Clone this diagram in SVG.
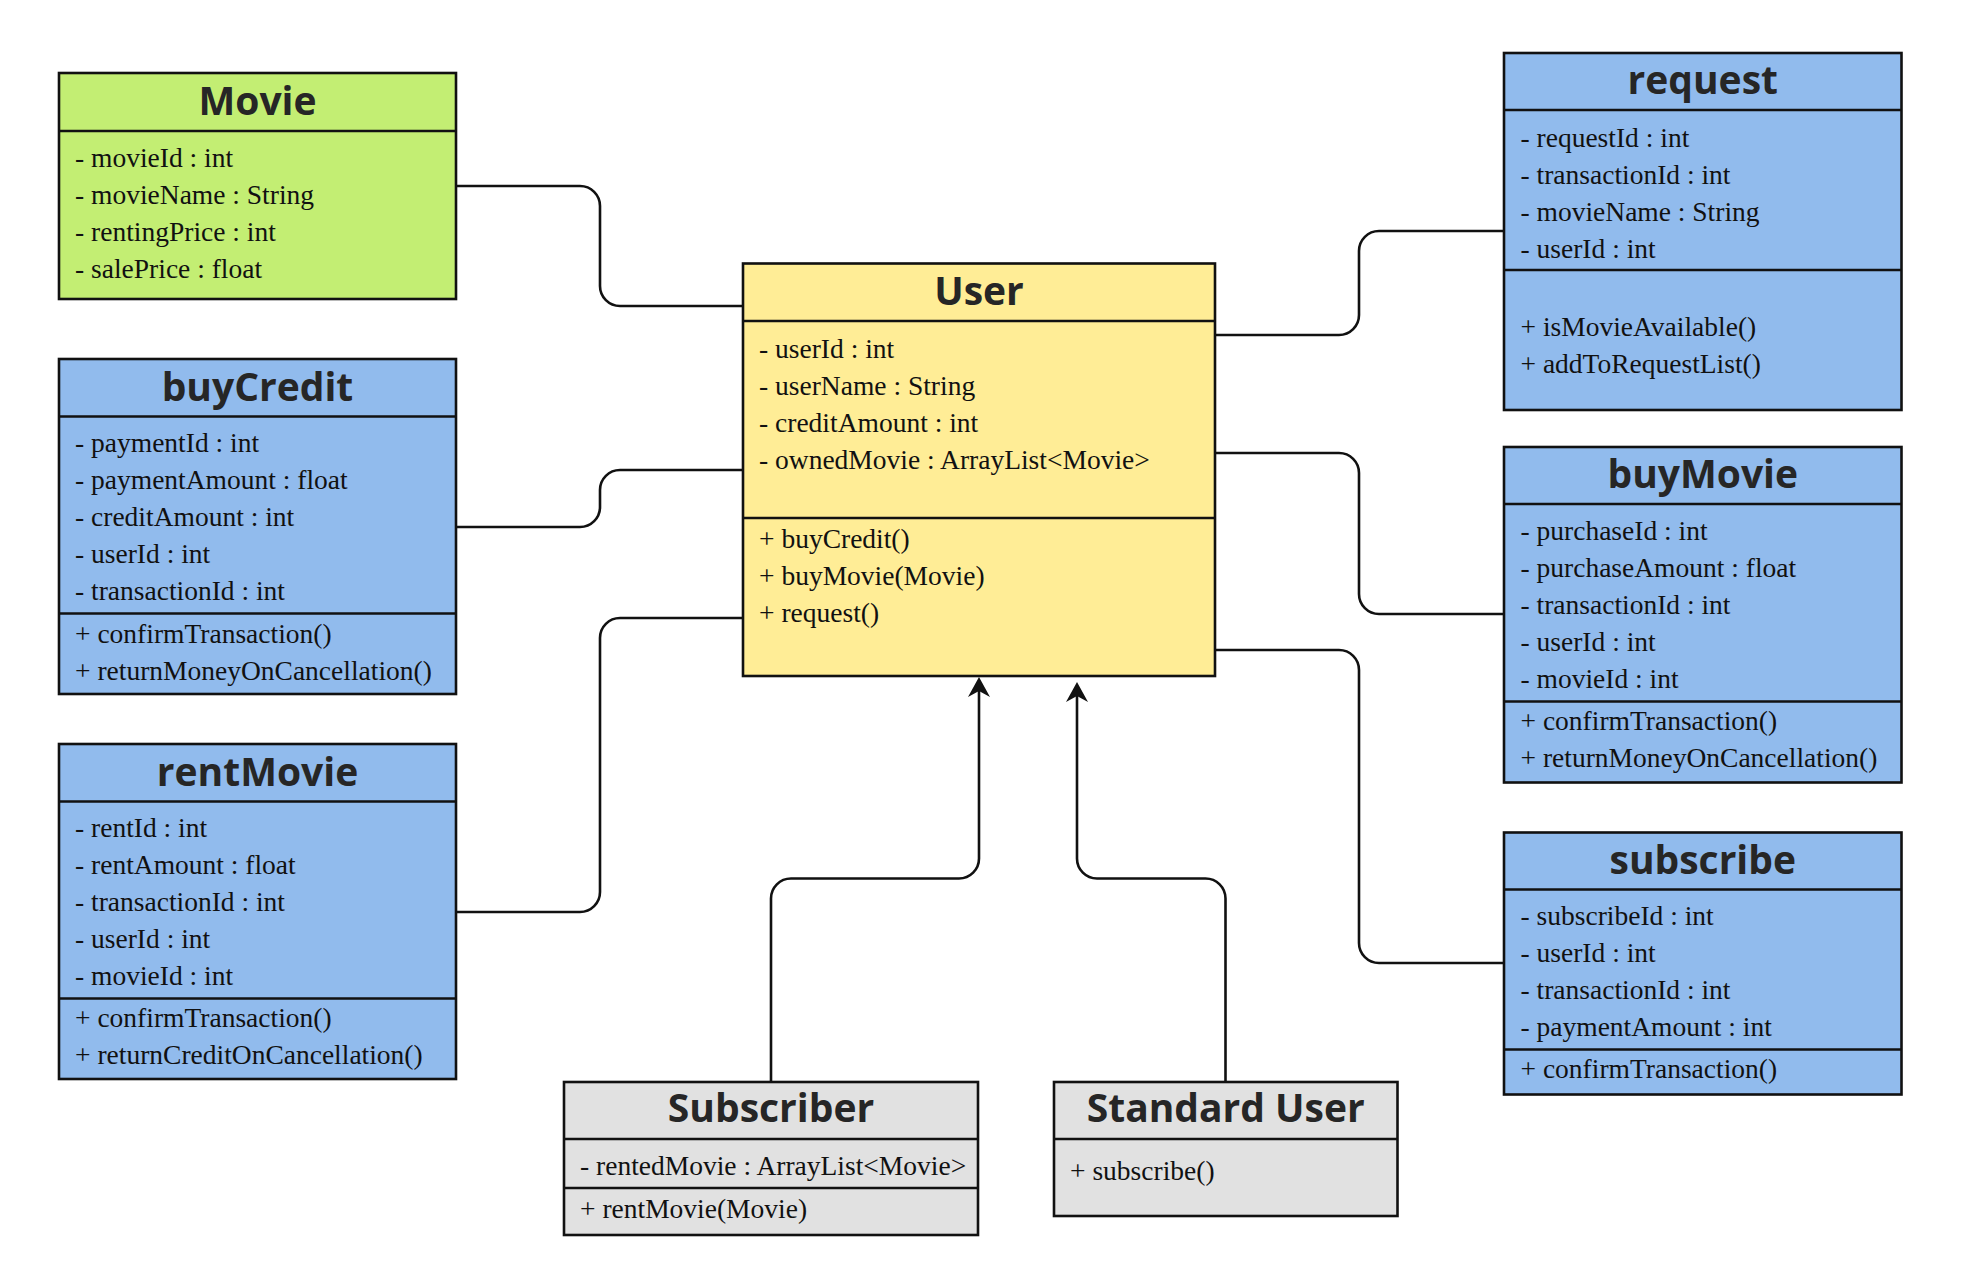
<svg xmlns="http://www.w3.org/2000/svg" width="1962" height="1284" viewBox="0 0 1962 1284">
<style>
.box{stroke:#111;stroke-width:2.6}
.sep{stroke:#111;stroke-width:2.6}
.green{fill:#c3ee73}
.blue{fill:#91bbed}
.yellow{fill:#ffed96}
.gray{fill:#e1e1e1}
.title{font-family:"Open Sans","Noto Sans","DejaVu Sans",sans-serif;font-weight:bold;font-size:39px;fill:#262626;text-anchor:middle}
.attr{font-family:"Liberation Serif","Times New Roman",serif;font-size:27.5px;fill:#111}
.conn{fill:none;stroke:#111;stroke-width:2.6}
</style>
<defs>
<marker id="arr" viewBox="0 0 20 22" refX="6" refY="11" markerWidth="20" markerHeight="22" markerUnits="userSpaceOnUse" orient="auto">
<path d="M0,0 L20,11 L0,22 L6,11 Z" fill="#111"/>
</marker>
</defs>
<rect width="1962" height="1284" fill="#fff"/>

<g id="connectors">
<path class="conn" d="M456,186 H580 A20,20 0 0 1 600,206 V286 A20,20 0 0 0 620,306 H743"/>
<path class="conn" d="M456,527 H580 A20,20 0 0 0 600,507 V490 A20,20 0 0 1 620,470 H743"/>
<path class="conn" d="M743,618 H620 A20,20 0 0 0 600,638 V892 A20,20 0 0 1 580,912 H456"/>
<path class="conn" d="M1215,335 H1339 A20,20 0 0 0 1359,315 V251 A20,20 0 0 1 1379,231 H1504"/>
<path class="conn" d="M1215,453 H1339 A20,20 0 0 1 1359,473 V594 A20,20 0 0 0 1379,614 H1504"/>
<path class="conn" d="M1215,650 H1339 A20,20 0 0 1 1359,670 V943 A20,20 0 0 0 1379,963 H1504"/>
<path class="conn" d="M771,1082 V898.5 A20,20 0 0 1 791,878.5 H959 A20,20 0 0 0 979,858.5 V691" marker-end="url(#arr)"/>
<path class="conn" d="M1225.5,1082 V898.5 A20,20 0 0 0 1205.5,878.5 H1097 A20,20 0 0 1 1077,858.5 V696" marker-end="url(#arr)"/>
</g>

<g id="movie">
<rect class="box green" x="59" y="73" width="397" height="226"/>
<line class="sep" x1="59" y1="131" x2="456" y2="131"/>
<text class="title" x="257.5" y="114.5">Movie</text>
<text class="attr" x="75" y="166.5">- movieId : int</text>
<text class="attr" x="75" y="203.5">- movieName : String</text>
<text class="attr" x="75" y="240.5">- rentingPrice : int</text>
<text class="attr" x="75" y="277.5">- salePrice : float</text>
</g>

<g id="buyCredit">
<rect class="box blue" x="59" y="359" width="397" height="335"/>
<line class="sep" x1="59" y1="416.5" x2="456" y2="416.5"/>
<line class="sep" x1="59" y1="613.5" x2="456" y2="613.5"/>
<text class="title" x="257.5" y="400.5">buyCredit</text>
<text class="attr" x="75" y="451.5">- paymentId : int</text>
<text class="attr" x="75" y="488.5">- paymentAmount : float</text>
<text class="attr" x="75" y="525.5">- creditAmount : int</text>
<text class="attr" x="75" y="562.5">- userId : int</text>
<text class="attr" x="75" y="599.5">- transactionId : int</text>
<text class="attr" x="75" y="642.5">+ confirmTransaction()</text>
<text class="attr" x="75" y="679.5">+ returnMoneyOnCancellation()</text>
</g>

<g id="rentMovie">
<rect class="box blue" x="59" y="744" width="397" height="335"/>
<line class="sep" x1="59" y1="801.5" x2="456" y2="801.5"/>
<line class="sep" x1="59" y1="998.5" x2="456" y2="998.5"/>
<text class="title" x="257.5" y="785.5">rentMovie</text>
<text class="attr" x="75" y="837">- rentId : int</text>
<text class="attr" x="75" y="874">- rentAmount : float</text>
<text class="attr" x="75" y="911">- transactionId : int</text>
<text class="attr" x="75" y="948">- userId : int</text>
<text class="attr" x="75" y="985">- movieId : int</text>
<text class="attr" x="75" y="1026.5">+ confirmTransaction()</text>
<text class="attr" x="75" y="1063.5">+ returnCreditOnCancellation()</text>
</g>

<g id="user">
<rect class="box yellow" x="743" y="263.5" width="472" height="412.5"/>
<line class="sep" x1="743" y1="321" x2="1215" y2="321"/>
<line class="sep" x1="743" y1="518" x2="1215" y2="518"/>
<text class="title" x="979" y="304.5">User</text>
<text class="attr" x="759" y="358">- userId : int</text>
<text class="attr" x="759" y="395">- userName : String</text>
<text class="attr" x="759" y="432">- creditAmount : int</text>
<text class="attr" x="759" y="469">- ownedMovie : ArrayList&lt;Movie&gt;</text>
<text class="attr" x="759" y="548">+ buyCredit()</text>
<text class="attr" x="759" y="585">+ buyMovie(Movie)</text>
<text class="attr" x="759" y="622">+ request()</text>
</g>

<g id="request">
<rect class="box blue" x="1504" y="53" width="397.5" height="357"/>
<line class="sep" x1="1504" y1="110" x2="1901.5" y2="110"/>
<line class="sep" x1="1504" y1="270" x2="1901.5" y2="270"/>
<text class="title" x="1702.75" y="94">request</text>
<text class="attr" x="1520.5" y="146.5">- requestId : int</text>
<text class="attr" x="1520.5" y="183.5">- transactionId : int</text>
<text class="attr" x="1520.5" y="220.5">- movieName : String</text>
<text class="attr" x="1520.5" y="257.5">- userId : int</text>
<text class="attr" x="1520.5" y="336">+ isMovieAvailable()</text>
<text class="attr" x="1520.5" y="373">+ addToRequestList()</text>
</g>

<g id="buyMovie">
<rect class="box blue" x="1504" y="447" width="397.5" height="335.5"/>
<line class="sep" x1="1504" y1="504" x2="1901.5" y2="504"/>
<line class="sep" x1="1504" y1="701.5" x2="1901.5" y2="701.5"/>
<text class="title" x="1702.75" y="488">buyMovie</text>
<text class="attr" x="1520.5" y="540">- purchaseId : int</text>
<text class="attr" x="1520.5" y="577">- purchaseAmount : float</text>
<text class="attr" x="1520.5" y="614">- transactionId : int</text>
<text class="attr" x="1520.5" y="651">- userId : int</text>
<text class="attr" x="1520.5" y="688">- movieId : int</text>
<text class="attr" x="1520.5" y="730">+ confirmTransaction()</text>
<text class="attr" x="1520.5" y="767">+ returnMoneyOnCancellation()</text>
</g>

<g id="subscribe">
<rect class="box blue" x="1504" y="832.5" width="397.5" height="262"/>
<line class="sep" x1="1504" y1="889.5" x2="1901.5" y2="889.5"/>
<line class="sep" x1="1504" y1="1049.5" x2="1901.5" y2="1049.5"/>
<text class="title" x="1702.75" y="873.5">subscribe</text>
<text class="attr" x="1520.5" y="925">- subscribeId : int</text>
<text class="attr" x="1520.5" y="962">- userId : int</text>
<text class="attr" x="1520.5" y="999">- transactionId : int</text>
<text class="attr" x="1520.5" y="1036">- paymentAmount : int</text>
<text class="attr" x="1520.5" y="1077.5">+ confirmTransaction()</text>
</g>

<g id="subscriber">
<rect class="box gray" x="564" y="1082" width="414" height="153"/>
<line class="sep" x1="564" y1="1139" x2="978" y2="1139"/>
<line class="sep" x1="564" y1="1188" x2="978" y2="1188"/>
<text class="title" x="771" y="1122">Subscriber</text>
<text class="attr" x="580" y="1174.5">- rentedMovie : ArrayList&lt;Movie&gt;</text>
<text class="attr" x="580" y="1217.5">+ rentMovie(Movie)</text>
</g>

<g id="standardUser">
<rect class="box gray" x="1054" y="1082" width="343.5" height="134"/>
<line class="sep" x1="1054" y1="1139" x2="1397.5" y2="1139"/>
<text class="title" x="1225.75" y="1122">Standard User</text>
<text class="attr" x="1070" y="1180">+ subscribe()</text>
</g>
</svg>
